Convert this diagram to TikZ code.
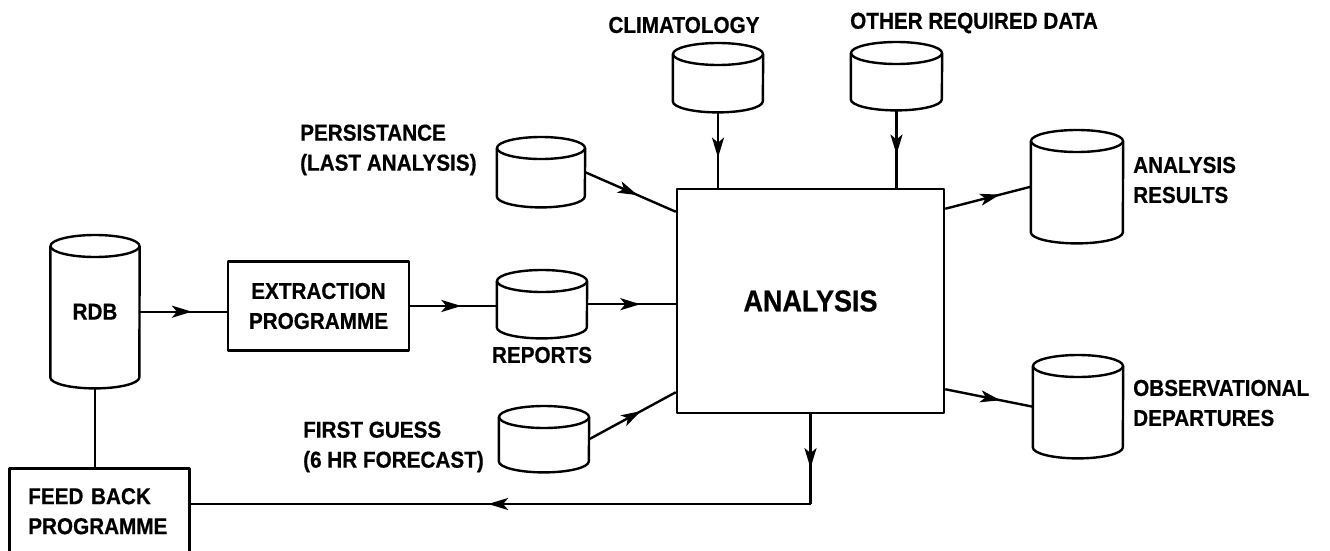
\documentclass[tikz,border=0pt]{standalone}
\usepackage{fontspec}
\setmainfont{Liberation Sans}
\newfontfamily\lblfont{Liberation Sans}[FakeStretch=0.9, FakeBold=0.6]
\usetikzlibrary{arrows.meta,decorations.markings}
\tikzset{
  lbl/.style={font=\lblfont\fontsize{23}{30}\selectfont\bfseries, inner sep=0pt, align=left},
  box/.style={draw, line width=2.5pt, font=\lblfont\fontsize{23}{30}\selectfont\bfseries, align=center, inner sep=0pt},
  conn/.style={line width=2.4pt},
  mid/.style={postaction={decorate}, decoration={markings, mark=at position #1 with {\arrow{Stealth[length=20pt,width=12pt,inset=5pt]}}}},
}
\newcommand\dbcyl[6]{% name, cx, top, height, width, text
  \node[inner sep=0pt, minimum width=#5pt, minimum height=#4pt, anchor=north, font=\lblfont\fontsize{23}{30}\selectfont\bfseries] (#1) at (#2,#3) {#6};
  \draw[conn] ([yshift=-11pt]#1.north west) -- ([yshift=11pt]#1.south west)
     arc[start angle=180, end angle=360, x radius=#5pt/2, y radius=11pt]
     -- ([yshift=-11pt]#1.north east);
  \draw[conn] ([yshift=-11pt]#1.north) ellipse[x radius=#5pt/2, y radius=11pt];
}
\begin{document}
\begin{tikzpicture}[x=1pt, y=-1pt, line join=round]
\useasboundingbox (0,0) rectangle (1330,551);
\clip (0,0) rectangle (1330,551);
\fill[white] (0,0) rectangle (1330,551);

% cylinders (data stores)
\dbcyl{rdb}{95}{235}{153}{89}{RDB}
\dbcyl{clim}{718}{43}{69}{90}{}
\dbcyl{ord}{896.5}{42}{68}{91}{}
\dbcyl{per}{541}{137}{70}{88}{}
\dbcyl{rep}{542}{270}{68}{90}{}
\dbcyl{fg}{544}{406}{66}{90}{}
\dbcyl{ar}{1077}{130}{113}{92}{}
\dbcyl{od}{1078}{355}{103}{90}{}

% boxes
\node[box, minimum width=181pt, minimum height=89pt] (ext) at (318.5,306) {EXTRACTION\\PROGRAMME};
\node[box, minimum width=267pt, minimum height=224pt, font=\lblfont\fontsize{30}{34}\selectfont\bfseries] (ana) at (810.5,301) {ANALYSIS};
\node[box, anchor=north west, minimum width=180pt, minimum height=86pt, align=left, text width=142pt, inner xsep=19pt] (fb) at (8,467) {FEED BACK\\PROGRAMME};

% labels
\node[lbl, anchor=center] (climl) at (684,25) {CLIMATOLOGY};
\node[lbl, anchor=west] (ordl) at (850,23) {OTHER REQUIRED DATA};
\node[lbl, anchor=west] (perl) at (300,150) {PERSISTANCE\\(LAST ANALYSIS)};
\node[lbl, anchor=center] (repl) at (542,355) {REPORTS};
\node[lbl, anchor=west] (fgl) at (303,447) {FIRST GUESS\\(6 HR FORECAST)};
\node[lbl, anchor=west] (arl) at (1133,180) {ANALYSIS\\RESULTS};
\node[lbl, anchor=west] (odl) at (1133,403) {OBSERVATIONAL\\DEPARTURES};

% connectors
\coordinate (corner) at (810.5,504);
\draw[conn, mid=0.6] (rdb.east) -- (rdb.east -| ext.west);
\draw[conn, mid=0.59] (ext.east) -- (ext.east -| rep.west);
\draw[conn, mid=0.6] (rep.east) -- (rep.east -| ana.west);
\draw[conn, mid=0.58] (per.east) -- ([yshift=-24pt]ana.north west);
\draw[conn, mid=0.6] (fg.east) -- ([yshift=22pt]ana.south west);
\draw[conn, mid=0.6] (clim.south) -- (clim.south |- ana.north);
\draw[conn, mid=0.57] (ord.south) -- (ord.south |- ana.north);
\draw[conn, mid=0.64] ([yshift=-21pt]ana.north east) -- (ar.west);
\draw[conn, mid=0.63] ([yshift=25pt]ana.south east) -- (od.west);
\draw[conn, mid=0.6] (ana.south) -- (corner);
\draw[conn, mid=0.52] (corner) -- (corner -| fb.east);
\draw[conn] (rdb.south) -- (rdb.south |- fb.north);
\end{tikzpicture}
\end{document}
